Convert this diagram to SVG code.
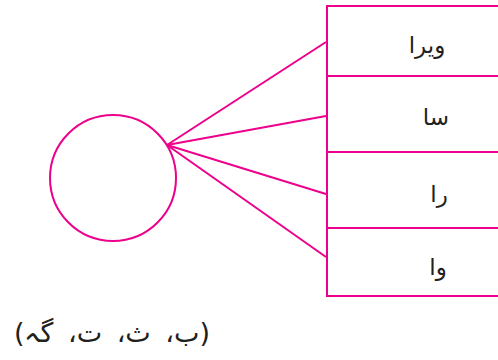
<svg xmlns="http://www.w3.org/2000/svg" width="498" height="360" viewBox="0 0 498 360">
<style>
.s{fill:none;stroke:#EC008C;stroke-width:2}
.t{font-family:"DejaVu Sans",sans-serif;font-size:23px;fill:#231F20;direction:rtl}
.c{font-size:27px;word-spacing:6px}
</style>
<rect width="498" height="360" fill="#fff"/>
<g id="circle"><circle class="s" cx="113" cy="178" r="63"/></g>
<g id="table">
<rect class="s" x="327" y="6" width="175" height="290"/>
<line class="s" x1="327" y1="76" x2="498" y2="76"/>
<line class="s" x1="327" y1="152" x2="498" y2="152"/>
<line class="s" x1="327" y1="228" x2="498" y2="228"/>
</g>
<g id="cell1"><text class="t" x="427" y="53" text-anchor="middle">ویرا</text></g>
<g id="cell2"><text class="t" x="436" y="125" text-anchor="middle">سا</text></g>
<g id="cell3"><text class="t" x="439" y="202" text-anchor="middle">را</text></g>
<g id="cell4"><text class="t" x="438" y="275" text-anchor="middle">وا</text></g>
<g id="connectors">
<line class="s" x1="167" y1="145" x2="326" y2="42"/>
<line class="s" x1="167" y1="145" x2="326" y2="116"/>
<line class="s" x1="167" y1="145" x2="326" y2="194"/>
<line class="s" x1="167" y1="145" x2="326" y2="257"/>
</g>
<g id="caption"><text class="t c" x="112" y="342" text-anchor="middle">(ب، ث، ت، گہ)</text></g>
</svg>
